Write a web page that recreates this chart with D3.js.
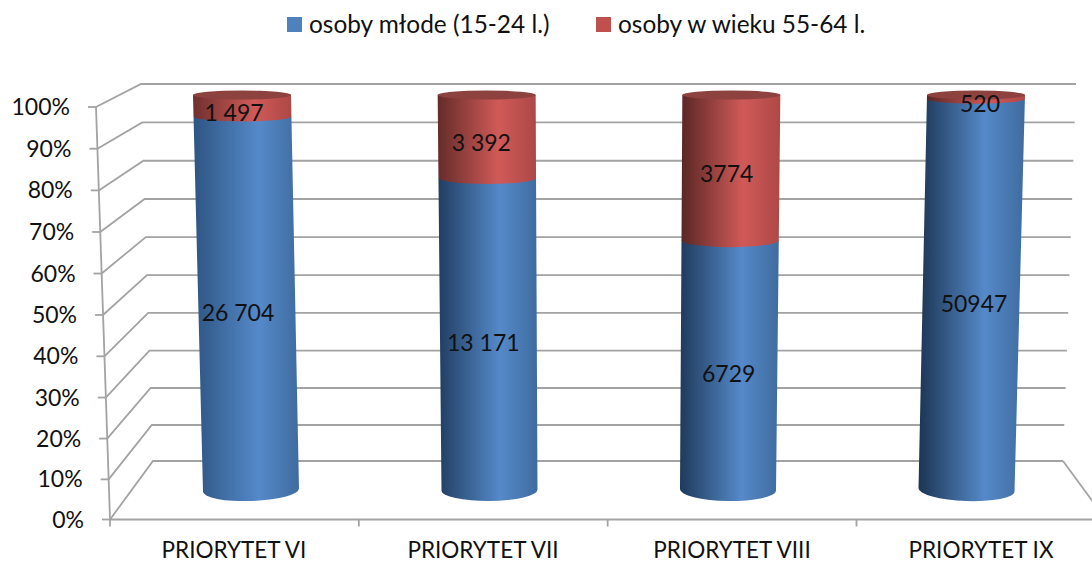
<!DOCTYPE html>
<html lang="pl">
<head>
<meta charset="UTF-8">
<title>Priorytety - osoby młode i w wieku 55-64 l.</title>
<script src="https://cdn.jsdelivr.net/npm/d3@7/dist/d3.min.js"></script>
<style>
  html, body { margin: 0; padding: 0; background: #fff; }
  svg { display: block; }
  text { font-family: Lato, "Open Sans", sans-serif; fill: #111; }
</style>
</head>
<body>
<div id="chart"></div>
<script>
// values
var categories = ["PRIORYTET VI", "PRIORYTET VII", "PRIORYTET VIII", "PRIORYTET IX"];
var youngValues = [26704, 13171, 6729, 50947];
var olderValues = [1497, 3392, 3774, 520];
var youngLabels = ["26 704", "13 171", "6729", "50947"];
var olderLabels = ["1 497", "3 392", "3774", "520"];
var seriesNames = ["osoby młode (15-24 l.)", "osoby w wieku 55-64 l."];
var percentTicks = [0, 10, 20, 30, 40, 50, 60, 70, 80, 90, 100];

var width = 1092, height = 563;
var svg = d3.select("#chart").append("svg").attr("width", width).attr("height", height);
var defs = svg.append("defs");

// the walls are slightly in perspective, hence the pow scales
var yBack = d3.scalePow().exponent(1.02).domain([0, 100]).range([461, 84]);
var yFront = d3.scalePow().exponent(1.012).domain([0, 100]).range([519.5, 107]);
var xBackLeft = d3.scaleLinear().domain([0, 100]).range([153, 141]);
var xBackRight = d3.scaleLinear().domain([0, 100]).range([1063, 1076]);
var xFront = d3.scaleLinear().domain([0, 100]).range([110, 96]);

var xTop = d3.scalePoint().domain(categories).range([242, 976]);
var xBottom = d3.scalePoint().domain(categories).range([251, 966.5]);
var xLabel = d3.scalePoint().domain(categories).range([238, 974]);
var xCategory = d3.scalePoint().domain(categories).range([234, 981]);
var yCyl = d3.scalePow().exponent(1.03).domain([0, 1]).range([490, 95]);
var yValueLabel = d3.scaleLinear().domain([0, 1]).range([502, 102]);
var rx = d3.scaleLinear().domain([0, 1]).range([48, 49]);
var ry = d3.scaleLinear().domain([0, 1]).range([11, 4.5]);
var tilt = d3.scaleLinear().domain([0, 3]).range([-1.6, 1.8]);
var grid = "#a3a3a3";

// back wall and side wall
var walls = svg.append("g").attr("fill", "none").attr("stroke", grid).attr("stroke-width", 1.8);
percentTicks.forEach(function(t) {
  walls.append("path").attr("d", "M" + xFront(t) + "," + yFront(t) +
    "L" + xBackLeft(t) + "," + yBack(t) + "L" + xBackRight(t) + "," + yBack(t));
  walls.append("line").attr("x1", xFront(t) - 8).attr("x2", xFront(t))
    .attr("y1", yFront(t)).attr("y2", yFront(t));
});
walls.append("line").attr("x1", xFront(0)).attr("y1", yFront(0)).attr("x2", xFront(100)).attr("y2", yFront(100));
walls.append("line").attr("x1", xFront(0)).attr("y1", yFront(0)).attr("x2", width).attr("y2", yFront(0));
walls.append("line").attr("x1", xBackRight(0)).attr("y1", yBack(0)).attr("x2", 1106).attr("y2", yFront(0));

// ticks under the floor
var xTicks = d3.scaleLinear().domain([0, 3]).range([110, 856.5]);
[0, 1, 2, 3].forEach(function(i) {
  walls.append("line").attr("x1", xTicks(i)).attr("x2", xTicks(i)).attr("y1", yFront(0)).attr("y2", yFront(0) + 7);
});

svg.append("g").selectAll("text").data(percentTicks).enter().append("text")
  .attr("x", function(d) { return xFront(d) - 26; })
  .attr("y", function(d) { return yFront(d) + 8; })
  .attr("text-anchor", "end")
  .style("font-size", "23px")
  .text(function(d) { return d + "%"; });

svg.append("g").selectAll("text").data(categories).enter().append("text")
  .attr("x", function(d) { return xCategory(d); })
  .attr("y", 558)
  .attr("text-anchor", "middle")
  .style("font-size", "22.5px")
  .text(function(d) { return d; });

// left edge: first cylinder is the lightest
var blueEdge = d3.scaleLinear().domain([0, 1, 3]).range(["#2e5583", "#213e62", "#1c3553"]);
var redEdge = d3.scaleLinear().domain([0, 2, 3]).range(["#6e302e", "#5a2725", "#5a2725"]);

function gradient(id, edge, mid, right) {
  var g = defs.append("linearGradient").attr("id", id);
  g.append("stop").attr("offset", "0%").attr("stop-color", edge);
  g.append("stop").attr("offset", "62%").attr("stop-color", mid);
  g.append("stop").attr("offset", "100%").attr("stop-color", right);
}

function x0(cat, t) { return xBottom(cat) + (xTop(cat) - xBottom(cat)) * t; }

// side of a cylinder between two fractions, lower edge is an arc
function sidePath(cat, i, from, to) {
  var l0 = x0(cat, from) - rx(from), r0 = x0(cat, from) + rx(from);
  var l1 = x0(cat, to) - rx(to), r1 = x0(cat, to) + rx(to);
  var dy = from === 0 ? tilt(i) : 0; // only the foot of the cylinder leans
  var angle = Math.atan2(2 * dy, r0 - l0) * 180 / Math.PI;
  return "M" + l0 + "," + (yCyl(from) - dy) +
    "A" + rx(from) + "," + ry(from) + " " + angle + " 0 0 " + r0 + "," + (yCyl(from) + dy) +
    "L" + r1 + "," + yCyl(to) + "L" + l1 + "," + yCyl(to) + "Z";
}

categories.forEach(function(cat, i) {
  var share = youngValues[i] / (youngValues[i] + olderValues[i]);
  gradient("blue" + i, blueEdge(i), "#5589c9", "#3f6c9f");
  gradient("red" + i, redEdge(i), "#d05a58", "#ad4846");

  var c = svg.append("g");
  c.append("path").attr("d", sidePath(cat, i, 0, share)).attr("fill", "url(#blue" + i + ")");
  c.append("path").attr("d", sidePath(cat, i, share, 1)).attr("fill", "url(#red" + i + ")");
  c.append("ellipse")
    .attr("cx", x0(cat, 1)).attr("cy", yCyl(1))
    .attr("rx", rx(1)).attr("ry", ry(1))
    .attr("fill", "#8d4240");

  svg.append("text").attr("x", xLabel(cat)).attr("y", yValueLabel(share / 2) + 8)
    .attr("text-anchor", "middle").style("font-size", "23px").text(youngLabels[i]);
  svg.append("text").attr("x", xLabel(cat) + (i === 3 ? 6 : i === 0 ? -4 : -2))
    .attr("y", yValueLabel(share + (1 - share) / 2) + 8)
    .attr("text-anchor", "middle").style("font-size", "23px").text(olderLabels[i]);
});

// legend
var legend = svg.append("g");
var legendX = d3.scalePoint().domain(seriesNames).range([287, 596]);
var legendColor = d3.scaleOrdinal().domain(seriesNames).range(["#4f81bd", "#c0504d"]);
seriesNames.forEach(function(name) {
  legend.append("rect").attr("x", legendX(name)).attr("y", 17).attr("width", 15).attr("height", 15)
    .attr("fill", legendColor(name));
  legend.append("text").attr("x", legendX(name) + 22).attr("y", 33)
    .style("font-size", "24.4px").text(name);
});
</script>
</body>
</html>
